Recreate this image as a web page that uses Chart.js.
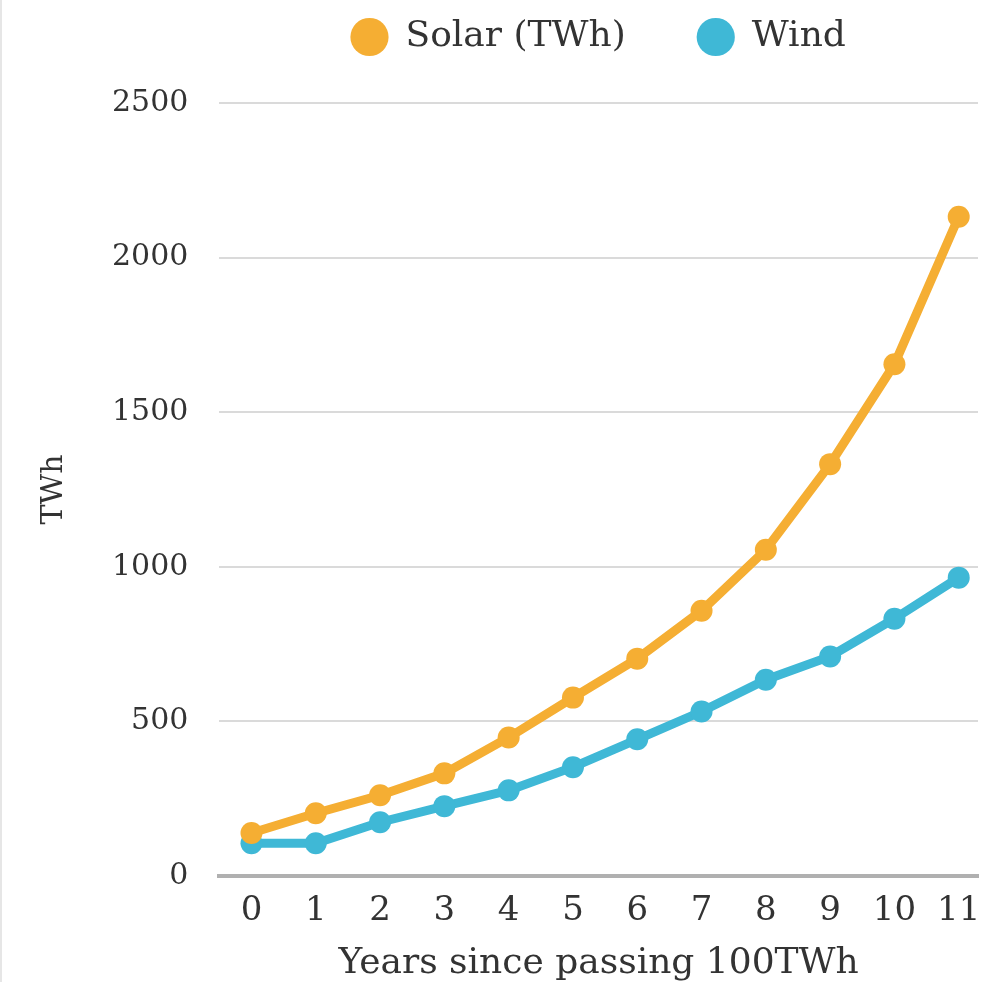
<!DOCTYPE html>
<html>
<head>
<meta charset="utf-8">
<script src="https://cdn.jsdelivr.net/npm/chart.js@4/dist/chart.umd.min.js"></script>
<style>
html,body{margin:0;padding:0;background:#fff;}
#wrap{position:relative;width:1007px;height:982px;border-left:2px solid #e6e6e6;box-sizing:border-box;}
canvas{display:block;}
</style>
</head>
<body>
<div id="wrap"><canvas id="c" width="1005" height="982"></canvas></div>
<script>
const years = [0,1,2,3,4,5,6,7,8,9,10,11];
const solar = [139,203,261,332,448,577,703,858,1055,1332,1655,2132];
const wind = [106,106,174,226,277,352,442,532,635,710,832,965];
const yTicks = [0,500,1000,1500,2000,2500];
const seriesNames = ['Solar (TWh)','Wind'];
const colors = ['#F5AE33','#3FB8D6'];

const FONT = "'DejaVu Serif', serif";
const mk = (arr) => years.map((x,i)=>({x:x,y:arr[i]}));

const LEGEND_EXTRA = 38;
const legendSpacer = {
  id: 'legendSpacer',
  afterInit(chart) {
    const lg = chart.legend;
    if (!lg) return;
    const orig = lg.fit.bind(lg);
    lg.fit = function() { orig(); this.height += LEGEND_EXTRA; };
  }
};

new Chart(document.getElementById('c'), {
  type: 'line',
  data: {
    datasets: [
      {label: seriesNames[0], data: mk(solar), borderColor: colors[0], backgroundColor: colors[0], borderWidth: 9, pointRadius: 11, pointHoverRadius: 11, pointBorderWidth: 0, tension: 0},
      {label: seriesNames[1], data: mk(wind), borderColor: colors[1], backgroundColor: colors[1], borderWidth: 9, pointRadius: 11, pointHoverRadius: 11, pointBorderWidth: 0, tension: 0}
    ]
  },
  options: {
    responsive: false,
    animation: false,
    layout: {padding: {left: 0, right: 29, top: -53, bottom: 0}},
    plugins: {
      legend: {
        position: 'top',
        fullSize: false,
        labels: {usePointStyle: true, pointStyle: 'circle', boxWidth: 36, boxHeight: 27, padding: 72, color: '#333', font: {family: FONT, size: 36}}
      },
      tooltip: {enabled: false}
    },
    scales: {
      x: {
        type: 'linear',
        min: -0.5, max: 11.3,
        afterBuildTicks: (ax) => { ax.ticks = years.map(v=>({value:v})); },
        grid: {display: false, drawTicks: false},
        border: {display: true, color: '#b0b0b0', width: 4},
        ticks: {color: '#333', font: {family: FONT, size: 34, lineHeight: 0.882}, padding: 20, autoSkip: false, maxRotation: 0, callback: (v) => String(v)},
        title: {display: true, text: 'Years since passing 100TWh', color: '#333', font: {family: FONT, size: 36, lineHeight: 1}, padding: {top: 0, bottom: 0}}
      },
      y: {
        min: 0, max: 2500,
        afterBuildTicks: (ax) => { ax.ticks = yTicks.map(v=>({value:v})); },
        grid: {color: '#dadada', lineWidth: 2, drawTicks: false},
        border: {display: false},
        ticks: {color: '#333', font: {family: FONT, size: 30}, padding: 31, callback: (v) => String(v)},
        title: {display: true, text: 'TWh', color: '#333', font: {family: FONT, size: 30}, padding: {top: 34, bottom: 9}}
      }
    }
  },
  plugins: [legendSpacer]
});
</script>
</body>
</html>
